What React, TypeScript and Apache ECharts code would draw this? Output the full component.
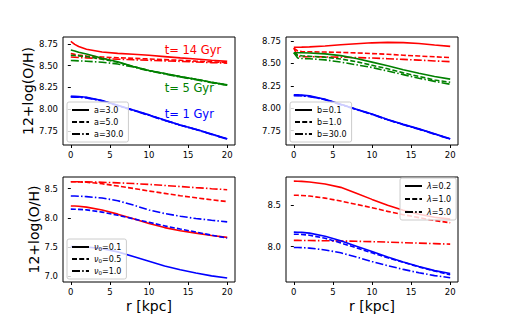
import React, { useEffect, useRef } from "react";
import * as echarts from "echarts";

const R = [0, 0.5, 1, 2, 4, 6, 8, 10, 12, 14, 16, 18, 20];
const X_TICKS = [0, 5, 10, 15, 20];

// Panel 1 (a)
const A_RED_3 = [8.78, 8.745, 8.72, 8.69, 8.657, 8.642, 8.632, 8.62, 8.605, 8.59, 8.577, 8.563, 8.55];
const A_RED_5 = [8.64, 8.63, 8.622, 8.612, 8.6, 8.592, 8.585, 8.578, 8.57, 8.562, 8.553, 8.545, 8.537];
const A_RED_30 = [8.6, 8.598, 8.595, 8.59, 8.582, 8.575, 8.568, 8.562, 8.556, 8.55, 8.543, 8.536, 8.53];
const A_GREEN_3 = [8.68, 8.67, 8.655, 8.635, 8.585, 8.545, 8.49, 8.445, 8.41, 8.375, 8.345, 8.31, 8.28];
const A_GREEN_5 = [8.62, 8.617, 8.613, 8.605, 8.575, 8.54, 8.49, 8.445, 8.41, 8.375, 8.345, 8.31, 8.278];
const A_GREEN_30 = [8.56, 8.558, 8.556, 8.552, 8.54, 8.52, 8.485, 8.44, 8.405, 8.37, 8.34, 8.305, 8.275];
const A_BLUE_3 = [8.15, 8.149, 8.147, 8.138, 8.1, 8.045, 7.99, 7.935, 7.875, 7.82, 7.77, 7.715, 7.66];
const A_BLUE_5 = [8.145, 8.144, 8.142, 8.134, 8.098, 8.043, 7.988, 7.933, 7.873, 7.818, 7.768, 7.713, 7.658];
const A_BLUE_30 = [8.14, 8.139, 8.137, 8.13, 8.095, 8.04, 7.986, 7.93, 7.871, 7.816, 7.766, 7.711, 7.656];

// Panel 2 (b)
const B_RED_01 = [8.68, 8.681, 8.682, 8.685, 8.695, 8.708, 8.72, 8.73, 8.735, 8.732, 8.722, 8.705, 8.69];
const B_RED_1 = [8.67, 8.64, 8.632, 8.63, 8.627, 8.623, 8.618, 8.61, 8.602, 8.592, 8.583, 8.574, 8.565];
const B_RED_30 = [8.67, 8.58, 8.575, 8.575, 8.573, 8.57, 8.566, 8.56, 8.553, 8.545, 8.537, 8.528, 8.52];
const B_GREEN_01 = [8.62, 8.62, 8.619, 8.617, 8.607, 8.587, 8.555, 8.515, 8.475, 8.43, 8.39, 8.355, 8.325];
const B_GREEN_1 = [8.62, 8.59, 8.585, 8.58, 8.57, 8.55, 8.52, 8.48, 8.44, 8.395, 8.355, 8.315, 8.29];
const B_GREEN_30 = [8.62, 8.56, 8.555, 8.552, 8.54, 8.515, 8.485, 8.455, 8.415, 8.375, 8.335, 8.3, 8.268];
const B_BLUE_01 = [8.15, 8.149, 8.147, 8.138, 8.1, 8.045, 7.99, 7.935, 7.875, 7.82, 7.77, 7.715, 7.66];
const B_BLUE_1 = [8.145, 8.144, 8.142, 8.134, 8.098, 8.043, 7.988, 7.933, 7.873, 7.818, 7.768, 7.713, 7.658];
const B_BLUE_30 = [8.14, 8.139, 8.137, 8.13, 8.095, 8.04, 7.986, 7.93, 7.871, 7.816, 7.766, 7.711, 7.656];

// Panel 3 (nu0)
const C_RED_01 = [8.205, 8.203, 8.2, 8.185, 8.135, 8.065, 7.985, 7.905, 7.835, 7.78, 7.74, 7.7, 7.668];
const C_RED_05 = [8.62, 8.619, 8.617, 8.61, 8.585, 8.545, 8.505, 8.46, 8.42, 8.38, 8.345, 8.31, 8.28];
const C_RED_10 = [8.62, 8.62, 8.619, 8.617, 8.61, 8.6, 8.588, 8.573, 8.555, 8.537, 8.518, 8.5, 8.483];
const C_BLUE_01 = [7.51, 7.51, 7.508, 7.502, 7.475, 7.42, 7.34, 7.26, 7.18, 7.115, 7.06, 7.01, 6.972];
const C_BLUE_05 = [8.15, 8.149, 8.147, 8.138, 8.1, 8.045, 7.985, 7.925, 7.865, 7.81, 7.76, 7.705, 7.655];
const C_BLUE_10 = [8.375, 8.374, 8.372, 8.365, 8.34, 8.295, 8.22, 8.135, 8.075, 8.03, 7.99, 7.96, 7.933];

// Panel 4 (lambda)
const D_RED_02 = [8.79, 8.789, 8.787, 8.78, 8.755, 8.715, 8.645, 8.57, 8.5, 8.44, 8.39, 8.355, 8.332];
const D_RED_1 = [8.62, 8.619, 8.617, 8.61, 8.585, 8.55, 8.51, 8.47, 8.425, 8.385, 8.35, 8.315, 8.288];
const D_RED_5 = [8.075, 8.075, 8.074, 8.073, 8.071, 8.068, 8.064, 8.06, 8.054, 8.048, 8.042, 8.036, 8.03];
const D_BLUE_02 = [8.175, 8.174, 8.172, 8.163, 8.125, 8.07, 8.005, 7.94, 7.875, 7.815, 7.76, 7.71, 7.675];
const D_BLUE_1 = [8.15, 8.149, 8.147, 8.138, 8.1, 8.045, 7.985, 7.925, 7.865, 7.81, 7.755, 7.705, 7.66];
const D_BLUE_5 = [7.99, 7.99, 7.988, 7.982, 7.96, 7.925, 7.875, 7.82, 7.77, 7.725, 7.685, 7.65, 7.625];

const LEGEND_A = ["a=3.0", "a=5.0", "a=30.0"];
const LEGEND_B = ["b=0.1", "b=1.0", "b=30.0"];
const LEGEND_C = ["nu0=0.1", "nu0=0.5", "nu0=1.0"];
const LEGEND_D = ["lam=0.2", "lam=1.0", "lam=5.0"];

const ANNOT_TEXT = ["t= 14 Gyr", "t= 5 Gyr", "t= 1 Gyr"];
const ANNOT_X = [12, 12, 12];
const ANNOT_Y = [8.68, 8.245, 7.95];
const ANNOT_COLOR = ["#ff0000", "#008000", "#0000ff"];

const FONT = "DejaVu Sans";
const DASHES: any[] = ["solid", [5, 2.2], [8, 2.2, 1.5, 2.2]];

function pts(ys: number[]) {
  return ys.map((y, i) => [R[i], y]);
}

export default function App() {
  const ref = useRef<HTMLDivElement>(null);
  useEffect(() => {
    const chart = echarts.init(ref.current!, null, { renderer: "svg" });
    const grids = [
      { left: 63, top: 37, width: 172, height: 108 },
      { left: 286, top: 37, width: 172, height: 108 },
      { left: 63, top: 177, width: 172, height: 105 },
      { left: 286, top: 177, width: 172, height: 105 },
    ].map((g) => ({ ...g, show: true, borderColor: "#000", borderWidth: 1, backgroundColor: "transparent" }));

    const yCfg = [
      { min: 7.589, max: 8.83, ticks: [7.75, 8, 8.25, 8.5, 8.75], dec: 2, name: "12+log(O/H)", gap: 24 },
      { min: 7.59, max: 8.795, ticks: [7.75, 8, 8.25, 8.5, 8.75], dec: 2, name: "", gap: 0 },
      { min: 6.905, max: 8.7, ticks: [7, 7.5, 8, 8.5], dec: 1, name: "12+log(O/H)", gap: 18 },
      { min: 7.573, max: 8.84, ticks: [8, 8.5], dec: 1, name: "", gap: 0 },
    ];

    const xAxis = [0, 1, 2, 3].map((i) => ({
      type: "value",
      gridIndex: i,
      min: -1,
      max: 21,
      name: i >= 2 ? "r [kpc]" : "",
      nameLocation: "middle",
      nameGap: 17,
      nameTextStyle: { fontFamily: FONT, fontSize: 14, color: "#000" },
      axisLine: { show: false },
      splitLine: { show: false },
      axisTick: { show: true, length: 3, customValues: X_TICKS, lineStyle: { color: "#000", width: 1 } },
      axisLabel: { customValues: X_TICKS, fontFamily: FONT, fontSize: 8.5, color: "#000", margin: 5 },
    }));

    const yAxis = yCfg.map((c, i) => ({
      type: "value",
      gridIndex: i,
      min: c.min,
      max: c.max,
      name: c.name,
      nameLocation: "middle",
      nameGap: c.gap,
      nameRotate: 90,
      nameTextStyle: { fontFamily: FONT, fontSize: 14, color: "#000" },
      axisLine: { show: false },
      splitLine: { show: false },
      axisTick: { show: true, length: 3, customValues: c.ticks, lineStyle: { color: "#000", width: 1 } },
      axisLabel: {
        customValues: c.ticks,
        fontFamily: FONT,
        fontSize: 8.5,
        color: "#000",
        margin: 5,
        formatter: (v: number) => v.toFixed(c.dec),
      },
    }));

    const series: any[] = [];
    const line = (id: string, ys: number[], color: string, dash: number, g: number) => {
      series.push({
        type: "line",
        name: id,
        xAxisIndex: g,
        yAxisIndex: g,
        data: pts(ys),
        showSymbol: false,
        symbol: "none",
        lineStyle: { color, width: 1.6, type: DASHES[dash] },
        silent: true,
      });
    };

    line("p1r3", A_RED_3, "red", 0, 0);
    line("p1r5", A_RED_5, "red", 1, 0);
    line("p1r30", A_RED_30, "red", 2, 0);
    line("p1g3", A_GREEN_3, "green", 0, 0);
    line("p1g5", A_GREEN_5, "green", 1, 0);
    line("p1g30", A_GREEN_30, "green", 2, 0);
    line("p1b3", A_BLUE_3, "blue", 0, 0);
    line("p1b5", A_BLUE_5, "blue", 1, 0);
    line("p1b30", A_BLUE_30, "blue", 2, 0);

    line("p2r01", B_RED_01, "red", 0, 1);
    line("p2r1", B_RED_1, "red", 1, 1);
    line("p2r30", B_RED_30, "red", 2, 1);
    line("p2g01", B_GREEN_01, "green", 0, 1);
    line("p2g1", B_GREEN_1, "green", 1, 1);
    line("p2g30", B_GREEN_30, "green", 2, 1);
    line("p2b01", B_BLUE_01, "blue", 0, 1);
    line("p2b1", B_BLUE_1, "blue", 1, 1);
    line("p2b30", B_BLUE_30, "blue", 2, 1);

    line("p3r01", C_RED_01, "red", 0, 2);
    line("p3r05", C_RED_05, "red", 1, 2);
    line("p3r10", C_RED_10, "red", 2, 2);
    line("p3b01", C_BLUE_01, "blue", 0, 2);
    line("p3b05", C_BLUE_05, "blue", 1, 2);
    line("p3b10", C_BLUE_10, "blue", 2, 2);

    line("p4r02", D_RED_02, "red", 0, 3);
    line("p4r1", D_RED_1, "red", 1, 3);
    line("p4r5", D_RED_5, "red", 2, 3);
    line("p4b02", D_BLUE_02, "blue", 0, 3);
    line("p4b1", D_BLUE_1, "blue", 1, 3);
    line("p4b5", D_BLUE_5, "blue", 2, 3);

    // legend dummy series
    const legendSets = [LEGEND_A, LEGEND_B, LEGEND_C, LEGEND_D];
    legendSets.forEach((names, g) => {
      names.forEach((n, k) => {
        series.push({
          type: "line",
          name: n,
          xAxisIndex: g,
          yAxisIndex: g,
          data: [],
          symbol: "none",
          lineStyle: { color: "#000", width: 1.6, type: DASHES[k] },
          itemStyle: { color: "#000" },
        });
      });
    });

    // annotations
    series.push({
      type: "scatter",
      xAxisIndex: 0,
      yAxisIndex: 0,
      symbolSize: 0,
      silent: true,
      z: 10,
      itemStyle: { opacity: 1 },
      data: ANNOT_TEXT.map((t, i) => ({
        value: [ANNOT_X[i], ANNOT_Y[i]],
        label: {
          show: true,
          formatter: t,
          position: "right",
          distance: 0,
          color: ANNOT_COLOR[i],
          opacity: 1,
          textBorderWidth: 0,
          fontFamily: FONT,
          fontSize: 11.5,
        },
      })),
    });

    const legendBase = {
      orient: "vertical",
      itemWidth: 17,
      itemHeight: 8,
      itemGap: 2,
      padding: [3, 5, 3, 4],
      backgroundColor: "rgba(255,255,255,0.8)",
      borderColor: "#cccccc",
      borderWidth: 1,
      borderRadius: 2,
      selectedMode: false,
      itemStyle: { opacity: 0 },
      textStyle: {
        fontFamily: FONT,
        fontSize: 8,
        color: "#000",
        lineHeight: 10,
        rich: {
          i: { fontFamily: FONT, fontSize: 8, fontStyle: "italic", color: "#000", lineHeight: 10 },
          s: { fontFamily: FONT, fontSize: 5.5, color: "#000", verticalAlign: "bottom", lineHeight: 7 },
        },
      },
    };
    const legend = [
      { ...legendBase, data: LEGEND_A, left: 67, top: 102 },
      { ...legendBase, data: LEGEND_B, left: 290, top: 102 },
      {
        ...legendBase,
        data: LEGEND_C,
        left: 67,
        top: 239,
        formatter: (n: string) => "{i|ν}{s|0}=" + n.split("=")[1],
      },
      {
        ...legendBase,
        data: LEGEND_D,
        left: 400,
        top: 178,
        itemGap: 3,
        formatter: (n: string) => "{i|λ}=" + n.split("=")[1],
      },
    ];

    chart.setOption({
      animation: false,
      backgroundColor: "#fff",
      textStyle: { fontFamily: FONT },
      grid: grids,
      xAxis,
      yAxis,
      legend,
      series,
    });
    return () => chart.dispose();
  }, []);
  return (
    <div
      ref={ref}
      style={{ position: "absolute", left: 0, top: 0, width: 509, height: 318 }}
    />
  );
}
